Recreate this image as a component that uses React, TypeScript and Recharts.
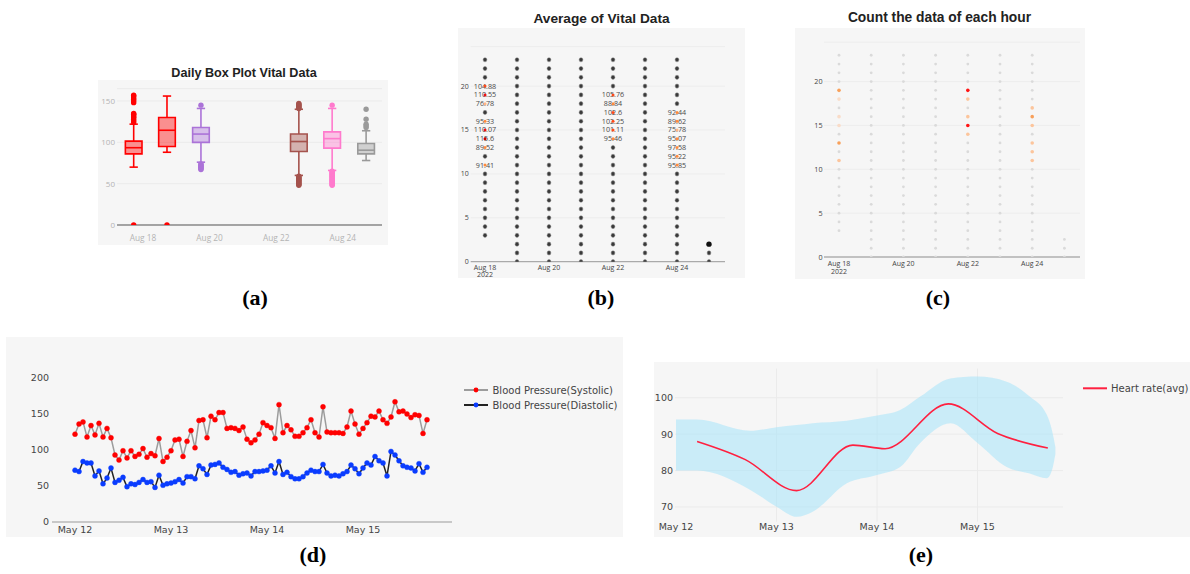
import React from 'react';
import {
  ScatterChart, Scatter, XAxis, YAxis, CartesianGrid, ReferenceArea, ReferenceLine,
  LineChart, Line, ComposedChart, Area,
} from 'recharts';

const PANEL_BG = '#f6f6f6';
const OPEN = '"Open Sans", sans-serif';
const DEJAVU = '"DejaVu Sans", Verdana, sans-serif';
const ARIAL = '"Liberation Sans", Arial, sans-serif';
const SERIF = '"Liberation Serif", "Times New Roman", serif';

// ---------- (a) Daily Box Plot Vital Data ----------
const boxDays = [17.72, 18.72, 19.74, 22.68, 23.68, 24.7];
const boxLow = [70, 88, 76, 60, 66, 78];
const boxQ1 = [86, 95, 100, 89, 93, 86];
const boxMedian = [93.5, 114.6, 110, 101, 104.5, 90.5];
const boxQ3 = [101.5, 130, 118, 110, 112.6, 98.5];
const boxHigh = [122, 156, 141, 140, 141, 114];
const boxOutliers = [
  [0, 124, 126, 128, 130, 131, 133, 134, 135, 148, 150, 152, 154, 156, 157],
  [0],
  [67, 68, 69, 70, 71, 72, 73, 74, 145],
  [48, 49, 50, 51, 52, 53, 54, 55, 56, 57, 58, 59, 141, 142, 143, 144, 145, 146, 147],
  [48, 49, 50, 51, 52, 53, 54, 55, 56, 57, 58, 59, 60, 61, 62, 63, 64, 65, 145],
  [118, 120, 122, 128, 140],
];
const boxColors = ['#ff0000', '#ff0000', '#ab73d8', '#a5534d', '#ff7acd', '#9a9a9a'];
const BOX_HALF = 0.25;
const CAP_HALF = 0.125;

const augTickDays = [18, 20, 22, 24];
const augTickLabels = ['Aug 18', 'Aug 20', 'Aug 22', 'Aug 24'];
const augYearLabel = '2022';

// ---------- (b) Average of Vital Data ----------
const avgDays = [18, 19, 20, 21, 22, 23, 24, 25];
const avgFirstHour = [3, 0, 0, 0, 0, 0, 0, 0];
const avgLastHour = [23, 23, 23, 23, 23, 23, 23, 2];
const avgBigDays = [25];
const avgBigHours = [2];
const avgLabelDays = [18, 18, 18, 18, 18, 18, 18, 18, 22, 22, 22, 22, 22, 22, 24, 24, 24, 24, 24, 24, 24];
const avgLabelHours = [20, 19, 18, 16, 15, 14, 13, 11, 19, 18, 17, 16, 15, 14, 17, 16, 15, 14, 13, 12, 11];
const avgLabelValues = [104.88, 110.55, 76.78, 95.33, 110.07, 115.6, 89.52, 91.41,
  105.76, 88.84, 102.6, 102.25, 101.11, 95.46,
  92.44, 89.62, 75.78, 95.07, 97.58, 95.22, 95.85];

// ---------- (c) Count the data of each hour ----------
const countDays = [18, 19, 20, 21, 22, 23, 24, 25];
const countFirstHour = [3, 0, 0, 0, 0, 0, 0, 0];
const countLastHour = [23, 23, 23, 23, 23, 23, 23, 2];
const countHiDays = [18, 18, 18, 18, 18, 18, 22, 22, 22, 22, 22, 24, 24, 24, 24, 24, 24];
const countHiHours = [19, 18, 16, 15, 13, 11, 19, 18, 16, 15, 14, 17, 16, 15, 13, 12, 11];
const countHiLevels = [4, 2, 2, 2, 4, 3, 5, 3, 3, 5, 3, 3, 4, 3, 3, 3, 3];
const countLevelColors = ['#dadada', '#dadada', '#f9dcc8', '#fcc59c', '#f8a05a', '#ff1414'];

// ---------- (d) Blood pressure (hourly from May 12 00:00) ----------
const bpSystolic = [122, 136, 139, 118, 134, 121, 137, 118, 130, 117,
  93, 86, 99, 89, 99, 91, 94, 102, 90, 95,
  92, 116, 84, 90, 99, 114, 115, 91, 112, 127,
  103, 141, 142, 117, 147, 142, 152, 152, 130, 131,
  130, 127, 132, 115, 110, 114, 122, 138, 134, 131,
  116, 163, 124, 134, 128, 119, 119, 124, 131, 142,
  124, 118, 160, 125, 124, 124, 124, 123, 132, 154,
  136, 122, 130, 138, 147, 146, 154, 142, 137, 146,
  167, 153, 154, 150, 145, 149, 148, 123, 142];
const bpDiastolic = [72, 70, 84, 82, 82, 64, 71, 53, 61, 75,
  55, 58, 62, 49, 53, 52, 55, 59, 55, 56,
  48, 65, 51, 53, 54, 56, 59, 54, 63, 63,
  60, 78, 74, 66, 79, 80, 82, 76, 73, 69,
  70, 65, 67, 68, 64, 70, 70, 71, 72, 78,
  68, 84, 66, 69, 63, 60, 60, 63, 68, 72,
  70, 70, 80, 68, 64, 65, 64, 67, 70, 79,
  74, 67, 75, 82, 79, 91, 85, 82, 64, 98,
  93, 85, 78, 76, 75, 71, 81, 69, 76];
const bpTickHours = [0, 24, 48, 72];
const bpTickLabels = ['May 12', 'May 13', 'May 14', 'May 15'];

// ---------- (e) Heart rate (days from May 12) ----------
const hrDays = [0.21, 0.69, 1.2, 1.76, 2.08, 2.71, 3.2, 3.7];
const hrAvg = [88, 83, 74.5, 87, 86, 98.3, 90.2, 86.2];
const bandDays = [0, 0.21, 0.74, 1.0, 1.2, 1.36, 1.7, 2.0, 2.23, 2.43, 2.73, 3.0, 3.29, 3.52, 3.69, 3.75, 3.775];
const bandLow = [80, 80, 74.7, 70.1, 67.3, 68.7, 76.5, 78.8, 81, 87.6, 93, 87.6, 81, 79.2, 77.9, 81, 84.5];
const bandHigh = [94, 94, 90.9, 91.9, 92.5, 93, 93.7, 95.1, 96.6, 100.3, 105.3, 105.8, 104.4, 100.3, 95.3, 90, 86.5];
const hrTickDays = [0, 1, 2, 3];
const hrTickLabels = ['May 12', 'May 13', 'May 14', 'May 15'];

// ---------- derived tables ----------
const avgLabelSet = new Set(avgLabelDays.map((d, i) => `${d}-${avgLabelHours[i]}`));
const avgBigSet = new Set(avgBigDays.map((d, i) => `${d}-${avgBigHours[i]}`));
const avgDots: any[] = [];
avgDays.forEach((d, i) => {
  for (let h = avgFirstHour[i]; h <= avgLastHour[i]; h++) {
    const k = `${d}-${h}`;
    if (!avgLabelSet.has(k) && !avgBigSet.has(k)) avgDots.push({ x: d, y: h });
  }
});
const avgBig = avgBigDays.map((d, i) => ({ x: d, y: avgBigHours[i] }));
const avgLabeled = avgLabelDays.map((d, i) => ({ x: d, y: avgLabelHours[i], v: avgLabelValues[i] }));

const countHiSet = new Set(countHiDays.map((d, i) => `${d}-${countHiHours[i]}`));
const countDots: any[] = [];
countDays.forEach((d, i) => {
  for (let h = countFirstHour[i]; h <= countLastHour[i]; h++) {
    if (!countHiSet.has(`${d}-${h}`)) countDots.push({ x: d, y: h });
  }
});
const countHi = countHiDays.map((d, i) => ({ x: d, y: countHiHours[i], lvl: countHiLevels[i] }));

const bpData = bpSystolic.map((s, i) => ({ h: i, sys: s, dia: bpDiastolic[i] }));
const hrLineData = hrDays.map((d, i) => ({ d, hr: hrAvg[i] }));
const bandData = bandDays.map((d, i) => ({ d, band: [bandLow[i], bandHigh[i]] }));

function valueColor(v: number) {
  if (v >= 112) return '#c80000';
  if (v >= 108) return '#f01010';
  if (v >= 100) return '#ff4a1a';
  if (v >= 85) return '#ff8a3d';
  return '#ffb585';
}

function makeDateTick(fontSize: number, fill: string, gap: number, withYear: boolean) {
  return (props: any) => {
    const { x, y, payload } = props;
    const idx = augTickDays.indexOf(payload.value);
    const base = y + fontSize * 0.74;
    return (
      <g>
        <text x={x} y={base} textAnchor="middle" fontSize={fontSize} fill={fill} fontFamily={OPEN}>
          {augTickLabels[idx]}
        </text>
        {withYear && idx === 0 ? (
          <text x={x} y={base + gap} textAnchor="middle" fontSize={fontSize} fill={fill} fontFamily={OPEN}>
            {augYearLabel}
          </text>
        ) : null}
      </g>
    );
  };
}

function BoxPanel() {
  return (
    <ScatterChart width={290} height={165} margin={{ top: 8.6, right: 6, bottom: 0, left: 0 }}>
      <CartesianGrid vertical={false} stroke="#ebebeb" />
      <XAxis type="number" dataKey="x" domain={[17.219, 25.177]} allowDataOverflow ticks={augTickDays}
        tickFormatter={(v: number) => augTickLabels[augTickDays.indexOf(v)]} height={20}
        axisLine={{ stroke: '#8a8a8a', strokeWidth: 1.5 }} tickLine={false} tickSize={0} tickMargin={10}
        tick={{ fontSize: 8.3, fill: '#b4b4b4', fontFamily: OPEN }} />
      <YAxis type="number" dataKey="y" domain={[0, 165]} allowDataOverflow ticks={[0, 50, 100, 150]} width={19}
        axisLine={false} tickLine={false} tickSize={0} tickMargin={2}
        tick={{ fontSize: 8, fill: '#b4b4b4', fontFamily: OPEN }} />
      {boxDays.map((d, i) => (
        <ReferenceArea key={`box${i}`} x1={d - BOX_HALF} x2={d + BOX_HALF} y1={boxQ1[i]} y2={boxQ3[i]}
          fill={boxColors[i]} fillOpacity={0.42} stroke={boxColors[i]} strokeWidth={1.6} strokeOpacity={1}
          ifOverflow="visible" />
      ))}
      {boxDays.map((d, i) => (
        <ReferenceLine key={`med${i}`} segment={[{ x: d - BOX_HALF, y: boxMedian[i] }, { x: d + BOX_HALF, y: boxMedian[i] }]}
          stroke={boxColors[i]} strokeWidth={1.6} ifOverflow="visible" />
      ))}
      {boxDays.map((d, i) => (
        <ReferenceLine key={`wl${i}`} segment={[{ x: d, y: boxLow[i] }, { x: d, y: boxQ1[i] }]}
          stroke={boxColors[i]} strokeWidth={1.6} ifOverflow="visible" />
      ))}
      {boxDays.map((d, i) => (
        <ReferenceLine key={`wh${i}`} segment={[{ x: d, y: boxQ3[i] }, { x: d, y: boxHigh[i] }]}
          stroke={boxColors[i]} strokeWidth={1.6} ifOverflow="visible" />
      ))}
      {boxDays.map((d, i) => (
        <ReferenceLine key={`cl${i}`} segment={[{ x: d - CAP_HALF, y: boxLow[i] }, { x: d + CAP_HALF, y: boxLow[i] }]}
          stroke={boxColors[i]} strokeWidth={1.6} ifOverflow="visible" />
      ))}
      {boxDays.map((d, i) => (
        <ReferenceLine key={`ch${i}`} segment={[{ x: d - CAP_HALF, y: boxHigh[i] }, { x: d + CAP_HALF, y: boxHigh[i] }]}
          stroke={boxColors[i]} strokeWidth={1.6} ifOverflow="visible" />
      ))}
      {boxOutliers.map((vals, i) => (
        <Scatter key={`out${i}`} data={vals.map((v) => ({ x: boxDays[i], y: v }))} isAnimationActive={false}
          shape={(p: any) => <circle cx={p.cx} cy={p.cy} r={2.7} fill={boxColors[i]} />} />
      ))}
    </ScatterChart>
  );
}

function AvgPanel() {
  return (
    <ScatterChart width={287} height={253} margin={{ top: 18.6, right: 20, bottom: 0, left: 0 }}>
      <CartesianGrid vertical={false} stroke="#ededed" />
      <XAxis type="number" dataKey="x" domain={[17.553, 25.5]} allowDataOverflow ticks={augTickDays} height={19.3}
        axisLine={{ stroke: '#9a9a9a' }} tickLine={false} tickSize={0} tickMargin={3}
        tick={makeDateTick(7, '#444', 7.6, true)} />
      <YAxis type="number" dataKey="y" domain={[0, 24.5]} allowDataOverflow ticks={[0, 5, 10, 15, 20]} width={12.7}
        axisLine={false} tickLine={false} tickSize={0} tickMargin={2}
        tick={{ fontSize: 7, fill: '#444', fontFamily: OPEN }} />
      <Scatter data={avgDots} isAnimationActive={false}
        shape={(p: any) => <ellipse cx={p.cx} cy={p.cy} rx={1.9} ry={2.1} fill="#3a3a3a" stroke="#8c8c8c" strokeWidth={0.5} />} />
      <Scatter data={avgBig} isAnimationActive={false}
        shape={(p: any) => <circle cx={p.cx} cy={p.cy} r={2.7} fill="#111" />} />
      <Scatter data={avgLabeled} isAnimationActive={false}
        shape={(p: any) => (
          <g>
            <text x={p.cx} y={p.cy + 2.4} textAnchor="middle" fontSize={7.2} fill="#4a4a4a" fontFamily={OPEN}>
              {String(p.payload.v)}
            </text>
            <circle cx={p.cx} cy={p.cy} r={1.5} fill={valueColor(p.payload.v)} />
          </g>
        )} />
    </ScatterChart>
  );
}

function CountPanel() {
  return (
    <ScatterChart width={290} height={253} margin={{ top: 14.1, right: 5, bottom: 0, left: 0 }}>
      <CartesianGrid vertical={false} stroke="#ededed" />
      <XAxis type="number" dataKey="x" domain={[17.534, 25.484]} allowDataOverflow ticks={augTickDays} height={24}
        axisLine={{ stroke: '#b0b0b0', strokeWidth: 1.5 }} tickLine={false} tickSize={0} tickMargin={4}
        tick={makeDateTick(7, '#444', 7.8, true)} />
      <YAxis type="number" dataKey="y" domain={[0, 24.5]} allowDataOverflow ticks={[0, 5, 10, 15, 20]} width={29}
        axisLine={false} tickLine={false} tickSize={0} tickMargin={1.5}
        tick={{ fontSize: 7.2, fill: '#444', fontFamily: OPEN }} />
      <Scatter data={countDots} isAnimationActive={false}
        shape={(p: any) => <circle cx={p.cx} cy={p.cy} r={1.4} fill={countLevelColors[1]} />} />
      <Scatter data={countHi} isAnimationActive={false}
        shape={(p: any) => <circle cx={p.cx} cy={p.cy} r={1.8} fill={countLevelColors[p.payload.lvl]} />} />
    </ScatterChart>
  );
}

function BpPanel() {
  return (
    <LineChart width={615} height={200} data={bpData} margin={{ top: 30.2, right: 170, bottom: 0, left: 0 }}>
      <XAxis type="number" dataKey="h" domain={[-5.75, 94.25]} allowDataOverflow ticks={bpTickHours}
        tickFormatter={(v: number) => bpTickLabels[bpTickHours.indexOf(v)]} height={15}
        axisLine={{ stroke: '#9a9a9a' }} tickLine={false} tickSize={0} tickMargin={4}
        tick={{ fontSize: 9.5, fill: '#444', fontFamily: DEJAVU }} />
      <YAxis type="number" domain={[0, 215]} allowDataOverflow ticks={[0, 50, 100, 150, 200]} width={45}
        axisLine={false} tickLine={false} tickSize={0} tickMargin={3}
        tick={{ fontSize: 9.5, fill: '#444', fontFamily: DEJAVU }} />
      <Line type="linear" dataKey="sys" stroke="#9c9c9c" strokeWidth={1.5} isAnimationActive={false}
        dot={{ r: 2.5, fill: '#ff0000', stroke: '#ff0000', strokeWidth: 0.4 }} activeDot={false} />
      <Line type="linear" dataKey="dia" stroke="#222" strokeWidth={1.5} isAnimationActive={false}
        dot={{ r: 2.5, fill: '#0a3cff', stroke: '#0a3cff', strokeWidth: 0.4 }} activeDot={false} />
    </LineChart>
  );
}

function HrPanel() {
  return (
    <ComposedChart width={536} height={175} margin={{ top: 6.55, right: 127, bottom: 0, left: 0 }}>
      <CartesianGrid stroke="#ebebeb" horizontalValues={[70, 80, 90, 100]} verticalValues={[1, 2, 3]} />
      <XAxis type="number" dataKey="d" domain={[-0.01, 3.851]} allowDataOverflow ticks={hrTickDays}
        tickFormatter={(v: number) => hrTickLabels[hrTickDays.indexOf(v)]} height={15.4}
        axisLine={false} tickLine={false} tickSize={0} tickMargin={2}
        tick={{ fontSize: 9.5, fill: '#444', fontFamily: DEJAVU }} />
      <YAxis type="number" domain={[66, 108]} allowDataOverflow ticks={[70, 80, 90, 100]} width={21}
        axisLine={false} tickLine={false} tickSize={0} tickMargin={2}
        tick={{ fontSize: 9.5, fill: '#444', fontFamily: DEJAVU }} />
      <Area data={bandData} dataKey="band" type="monotone" fill="#a5e4fa" fillOpacity={0.55} stroke="none"
        isAnimationActive={false} activeDot={false} />
      <Line data={hrLineData} dataKey="hr" type="monotone" stroke="#ff2040" strokeWidth={1.6} dot={false}
        isAnimationActive={false} activeDot={false} />
    </ComposedChart>
  );
}

const abs = (left: number, top: number, width: number, height: number, extra: any = {}) => ({
  position: 'absolute' as const, left, top, width, height, ...extra,
});

export default function App() {
  return (
    <div style={abs(0, 0, 1190, 574, { background: '#fff', overflow: 'hidden' })}>
      {/* panel backgrounds */}
      <div style={abs(98, 80, 290, 165, { background: PANEL_BG })} />
      <div style={abs(458, 28, 287, 250, { background: PANEL_BG })} />
      <div style={abs(795, 28, 290, 251, { background: PANEL_BG })} />
      <div style={abs(6, 337, 617, 200, { background: PANEL_BG })} />
      <div style={abs(654, 362, 536, 175, { background: PANEL_BG })} />

      <div style={abs(98, 80, 290, 165)}><BoxPanel /></div>
      <div style={abs(458, 28, 287, 253)}><AvgPanel /></div>
      <div style={abs(795, 28, 290, 253)}><CountPanel /></div>
      <div style={abs(7, 337, 615, 200)}><BpPanel /></div>
      <div style={abs(654, 362, 536, 175)}><HrPanel /></div>

      <svg width={1190} height={574} style={abs(0, 0, 1190, 574, { pointerEvents: 'none' })}>
        <text x={244} y={76.5} textAnchor="middle" fontSize={12.6} fontWeight="bold" fill="#222" fontFamily={ARIAL}>Daily Box Plot Vital Data</text>
        <text x={601.5} y={23.1} textAnchor="middle" fontSize={13.7} fontWeight="bold" fill="#222" fontFamily={ARIAL}>Average of Vital Data</text>
        <text x={939.5} y={21.8} textAnchor="middle" fontSize={13.8} fontWeight="bold" fill="#222" fontFamily={ARIAL}>Count the data of each hour</text>

        <line x1={464} x2={488} y1={390} y2={390} stroke="#9c9c9c" strokeWidth={2} />
        <circle cx={476} cy={390} r={2.4} fill="#ff0000" />
        <text x={492.5} y={393.6} fontSize={10} fill="#444" fontFamily={DEJAVU}>Blood Pressure(Systolic)</text>
        <line x1={464} x2={488} y1={405} y2={405} stroke="#222" strokeWidth={2} />
        <circle cx={476} cy={405} r={2.4} fill="#0a3cff" />
        <text x={492.5} y={408.6} fontSize={10} fill="#444" fontFamily={DEJAVU}>Blood Pressure(Diastolic)</text>

        <line x1={1083} x2={1107} y1={388.3} y2={388.3} stroke="#ff2040" strokeWidth={2} />
        <text x={1111} y={391.9} fontSize={10} fill="#444" fontFamily={DEJAVU}>Heart rate(avg)</text>

        <text x={255} y={305} textAnchor="middle" fontSize={22} fontWeight="bold" fill="#000" fontFamily={SERIF}>(a)</text>
        <text x={601} y={305} textAnchor="middle" fontSize={22} fontWeight="bold" fill="#000" fontFamily={SERIF}>(b)</text>
        <text x={938} y={305} textAnchor="middle" fontSize={22} fontWeight="bold" fill="#000" fontFamily={SERIF}>(c)</text>
        <text x={313} y={562} textAnchor="middle" fontSize={22} fontWeight="bold" fill="#000" fontFamily={SERIF}>(d)</text>
        <text x={921} y={562} textAnchor="middle" fontSize={22} fontWeight="bold" fill="#000" fontFamily={SERIF}>(e)</text>
      </svg>
    </div>
  );
}
